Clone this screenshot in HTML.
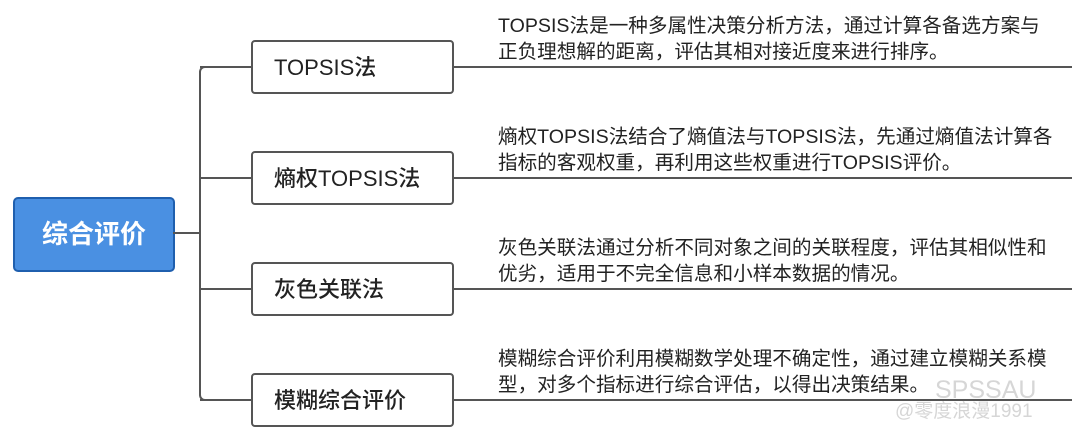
<!DOCTYPE html>
<html><head><meta charset="utf-8"><style>
body{margin:0;width:1080px;height:437px;background:#fff;position:relative;overflow:hidden;font-family:"Liberation Sans","Noto Sans CJK SC",sans-serif;}
.a{position:absolute}
.box{position:absolute;left:251px;width:199px;height:50px;border:2px solid #555;border-radius:4px;background:#fff;box-sizing:content-box}
.box span{position:absolute;left:21px;top:1px;line-height:50px;font-size:22px;color:#222;font-weight:500}
.h{position:absolute;height:2px;background:#555}
.t{position:absolute;left:498px;font-size:19.6px;line-height:26px;color:#222;white-space:nowrap}
</style></head><body>
<div class="a" style="left:13px;top:197px;width:158px;height:71px;background:#4a90e2;border:2px solid #1f5fae;border-radius:5px;color:#fff;font-size:26px;font-weight:bold;line-height:71px;text-align:center">综合评价</div>
<div class="h" style="left:173px;top:232px;width:28px"></div>
<div class="a" style="left:199px;top:66px;width:10px;height:335px;border-left:2px solid #555;border-top:2px solid #555;border-bottom:2px solid #555;border-radius:6px 0 0 6px;box-sizing:border-box"></div>
<div class="h" style="left:200px;top:66px;width:52px"></div>
<div class="h" style="left:200px;top:177px;width:52px"></div>
<div class="h" style="left:200px;top:288px;width:52px"></div>
<div class="h" style="left:200px;top:399px;width:52px"></div>

<div class="box" style="top:40px"><span>TOPSIS法</span></div>
<div class="box" style="top:151px"><span>熵权TOPSIS法</span></div>
<div class="box" style="top:262px"><span>灰色关联法</span></div>
<div class="box" style="top:373px"><span>模糊综合评价</span></div>

<div class="h" style="left:453px;top:66px;width:619px"></div>
<div class="h" style="left:453px;top:177px;width:619px"></div>
<div class="h" style="left:453px;top:288px;width:619px"></div>
<div class="h" style="left:453px;top:399px;width:619px"></div>

<div class="t" style="top:13px">TOPSIS法是一种多属性决策分析方法，通过计算各备选方案与<br>正负理想解的距离，评估其相对接近度来进行排序。</div>
<div class="t" style="top:124px">熵权TOPSIS法结合了熵值法与TOPSIS法，先通过熵值法计算各<br>指标的客观权重，再利用这些权重进行TOPSIS评价。</div>
<div class="t" style="top:235px">灰色关联法通过分析不同对象之间的关联程度，评估其相似性和<br>优劣，适用于不完全信息和小样本数据的情况。</div>
<div class="t" style="top:346px">模糊综合评价利用模糊数学处理不确定性，通过建立模糊关系模<br>型，对多个指标进行综合评估，以得出决策结果。</div>
<div class="a" style="left:935px;top:376px;font-size:25px;color:#ccc;opacity:.8">SPSSAU</div>
<div class="a" style="left:895px;top:396px;font-size:19px;color:#ccc;opacity:.8">@零度浪漫1991</div>
</body></html>
